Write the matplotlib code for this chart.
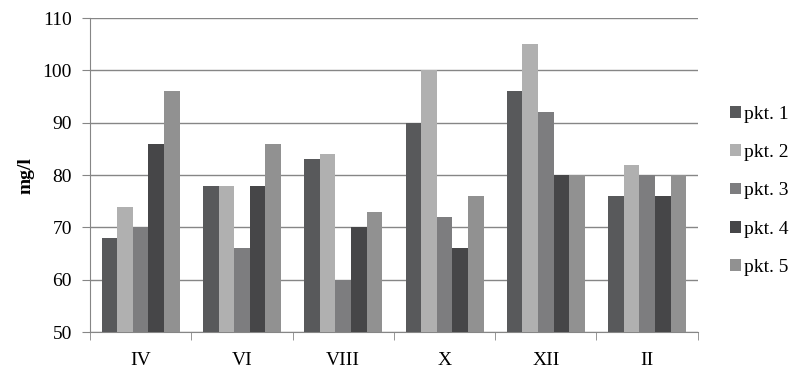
import matplotlib.pyplot as plt
import numpy as np

# data

months = ['IV', 'VI', 'VIII', 'X', 'XII', 'II']
series_names = ['pkt. 1', 'pkt. 2', 'pkt. 3', 'pkt. 4', 'pkt. 5']
pkt1 = [68, 78, 83, 90, 96, 76]
pkt2 = [74, 78, 84, 100, 105, 82]
pkt3 = [70, 66, 60, 72, 92, 80]
pkt4 = [86, 78, 70, 66, 80, 76]
pkt5 = [96, 86, 73, 76, 80, 80]
colors = ['#58595b', '#b0b0b0', '#7d7d7f', '#464648', '#919191']

# plot

plt.rcParams['font.family'] = ['Liberation Serif', 'DejaVu Serif']

fig = plt.figure(figsize=(8.03, 3.77), dpi=100)
ax = fig.add_axes([0.112, 0.119, 0.757, 0.833])

x = np.arange(len(months))
width = 0.154
for i, (name, values) in enumerate(zip(series_names, [pkt1, pkt2, pkt3, pkt4, pkt5])):
    ax.bar(x + (i - 2) * width, [v - 50 for v in values], width, bottom=50,
           color=colors[i], label=name, zorder=3)

ax.set_xlim(-0.5, len(months) - 0.5)
ax.set_ylim(50, 110)
ax.set_yticks(range(50, 111, 10))
ax.yaxis.grid(True, color='#868686', linewidth=1, zorder=0)

ax.set_xticks(x)
ax.set_xticklabels(months)
ax.set_xticks(np.arange(-0.5, len(months), 1), minor=True)
ax.tick_params(axis='x', which='major', length=0, pad=14, labelsize=14)
ax.tick_params(axis='x', which='minor', length=6, color='#868686', direction='out')
ax.tick_params(axis='y', length=6, color='#868686', labelsize=14, pad=7)

for side in ['top', 'right']:
    ax.spines[side].set_visible(False)
for side in ['left', 'bottom']:
    ax.spines[side].set_color('#868686')

ax.set_ylabel('mg/l', fontsize=14, fontweight='bold', labelpad=6)

ax.legend(loc='center left', bbox_to_anchor=(1.04, 0.45), frameon=False,
          fontsize=14, handlelength=0.55, handleheight=0.55, handletextpad=0.15,
          labelspacing=1.1, borderaxespad=0)

fig.savefig('out.png', dpi=100)
